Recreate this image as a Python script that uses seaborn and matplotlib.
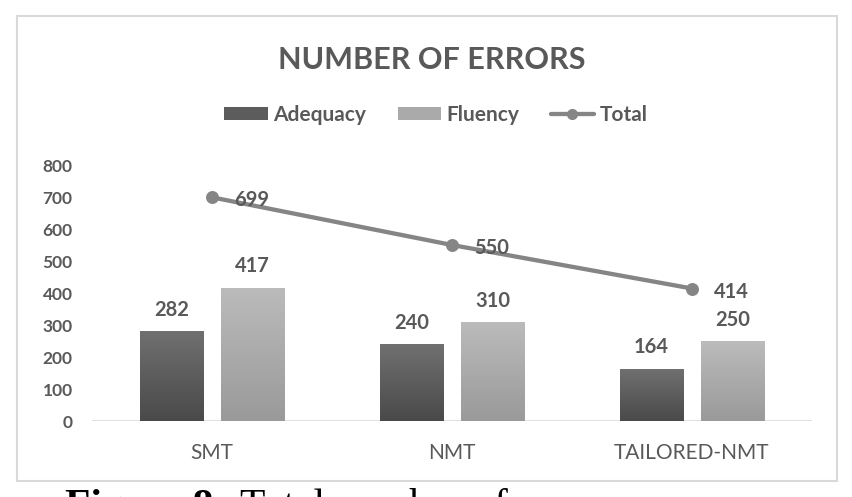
import numpy as np
import pandas as pd
import matplotlib
matplotlib.use('Agg')
import matplotlib.pyplot as plt
from matplotlib.patches import Rectangle, Patch
from matplotlib.lines import Line2D
from matplotlib.colors import LinearSegmentedColormap
import seaborn as sns

# data
systems = ['SMT', 'NMT', 'TAILORED-NMT']
adequacy = [282, 240, 164]
fluency = [417, 310, 250]
total = [699, 550, 414]
y_ticks = [0, 100, 200, 300, 400, 500, 600, 700, 800]

sns.set_theme(style='white')
plt.rcParams['font.family'] = ['Lato', 'DejaVu Sans']
text_col = '#595959'

df = pd.DataFrame({'System': systems * 2,
                   'Type': ['Adequacy'] * 3 + ['Fluency'] * 3,
                   'Errors': adequacy + fluency})

fig = plt.figure(figsize=(8.52, 4.97), dpi=100)
ax = fig.add_axes([92 / 852, 76 / 497, 720 / 852, 256 / 497])

sns.barplot(data=df, x='System', y='Errors', hue='Type', order=systems,
            palette=['#5c5c5c', '#aaaaaa'], saturation=1, width=0.675, gap=0.222,
            legend=False, ax=ax)

# vertical gradient fill like the Excel bars
grad = np.linspace(0, 1, 100).reshape(-1, 1)
cmaps = [LinearSegmentedColormap.from_list('dk', ['#4a4a4a', '#707070']),
         LinearSegmentedColormap.from_list('lt', ['#9a9a9a', '#bbbbbb'])]
for cont, cm in zip(ax.containers, cmaps):
    for bar in cont:
        x0, w, h = bar.get_x(), bar.get_width(), bar.get_height()
        im = ax.imshow(grad, cmap=cm, extent=[x0, x0 + w, 0, h], origin='lower',
                       aspect='auto', zorder=bar.get_zorder() + 0.1)
        im.set_clip_path(bar)
    ax.bar_label(cont, padding=8, fontsize=14.5, fontweight='bold', color=text_col)

sns.pointplot(x=systems, y=total, order=systems, color='#858585', linewidth=3.1,
              markersize=7, errorbar=None, ax=ax, zorder=5)

for i, v in enumerate(total):
    ax.annotate(str(v), (i, v), xytext=(22, -3), textcoords='offset pixels',
                ha='left', va='center', fontsize=14.5, fontweight='bold',
                color=text_col, zorder=6)

ax.set_xlim(-0.5, 2.5)
ax.set_ylim(0, 800)
ax.set_yticks(y_ticks)
ax.set_xlabel('')
ax.set_ylabel('')
for s in ax.spines.values():
    s.set_visible(False)
ax.axhline(0, color='#d9d9d9', lw=1.2, zorder=0.5)
ax.tick_params(axis='y', length=0, pad=14, labelsize=12.5, labelcolor=text_col)
ax.tick_params(axis='x', length=0, pad=16, labelsize=15, labelcolor=text_col)
for lbl in ax.get_yticklabels():
    lbl.set_fontweight('bold')

fig.text(432 / 852, 1 - 60 / 497, 'NUMBER OF ERRORS', ha='center', va='center',
         fontsize=22, fontweight='bold', color=text_col)

handles = [Patch(facecolor='#5c5c5c', edgecolor='none'),
           Patch(facecolor='#aaaaaa', edgecolor='none'),
           Line2D([], [], color='#858585', lw=3.1, marker='o', markersize=7)]
fig.legend(handles, ['Adequacy', 'Fluency', 'Total'], loc='center',
           bbox_to_anchor=(436 / 852, 1 - 115 / 497), ncol=3, frameon=False,
           prop={'size': 15, 'weight': 'bold'}, labelcolor=text_col,
           handlelength=2.1, handleheight=0.55, handletextpad=0.25, columnspacing=1.5)

# chart frame
fig.add_artist(Rectangle((17 / 852, 1 - 481 / 497), 820 / 852, 465 / 497,
                         transform=fig.transFigure, fill=False, ec='#d9d9d9', lw=1.5))

# caption cut off at the bottom of the image
fig.text(65 / 852, -0.042, 'Figure 8:', family='Liberation Serif',
         fontweight='bold', fontsize=30, va='baseline', color='black')
fig.text(240 / 852, -0.042, 'Total number of errors', family='Liberation Serif',
         fontsize=30, va='baseline', color='black')

fig.savefig('out.png', dpi=100)
